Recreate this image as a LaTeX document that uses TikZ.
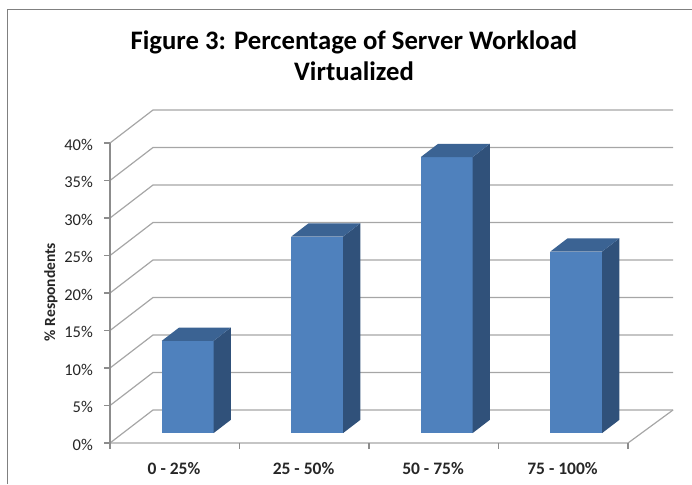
\documentclass[tikz,border=0pt]{standalone}
\usepackage{fontspec}
\setmainfont{Carlito}
\definecolor{gridgray}{HTML}{A6A6A6}
\definecolor{axisgray}{HTML}{8C8C8C}
\definecolor{framegray}{HTML}{808080}
\definecolor{barfront}{HTML}{4F81BD}
\definecolor{barside}{HTML}{30517A}
\definecolor{bartop}{HTML}{3B6393}
\begin{document}
\begin{tikzpicture}[x=1pt,y=-1pt,
  gridline/.style={draw=gridgray,line width=1.2pt},
  axisline/.style={draw=axisgray,line width=1.2pt},
  frameline/.style={draw=framegray,line width=1.6pt},
  frontface/.style={fill=barfront},
  sideface/.style={fill=barside},
  topface/.style={fill=bartop},
  ticklabel/.style={font=\fontsize{16.5}{18}\selectfont,text=black!85,inner sep=0pt,anchor=base east},
  catlabel/.style={font=\bfseries\fontsize{17.5}{18}\selectfont,text=black!85,inner sep=0pt,anchor=base},
  titlelabel/.style={font=\bfseries\fontsize{26.7}{30}\selectfont,inner sep=0pt,anchor=base}]
\useasboundingbox (0,0) rectangle (692,484);
% frame
\draw[frameline] (7.5,484) -- (7.5,9.5) -- (692,9.5);
% title
\node[titlelabel] (title1) at (354,50) {Figure 3: Percentage of Server Workload};
\node[titlelabel] (title2) at (354,81) {Virtualized};
% gridlines and ticks
\foreach \k/\lab in {0/0\%,1/5\%,2/10\%,3/15\%,4/20\%,5/25\%,6/30\%,7/35\%,8/40\%}{
  \pgfmathsetmacro{\yy}{443-37.5*\k}
  \coordinate (gf\k) at (110,\yy);
  \coordinate (gb\k) at (153,\yy-33);
  \coordinate (ge\k) at (673,\yy-33);
  \draw[gridline] (gf\k) -- (gb\k) -- (ge\k);
  \coordinate (tk\k) at (104,\yy);
  \draw[axisline] (tk\k) -- (gf\k);
  \node[ticklabel] (yl\k) at (93,\yy+7) {\lab};
}
% floor
\coordinate (floorR) at (628,443);
\coordinate (floorRB) at (673,410);
\draw[gridline] (gf0) -- (floorR) -- (floorRB);
% vertical axis
\draw[axisline] (gf8) -- (gf0);
% category ticks
\foreach \i in {0,1,2,3,4}{
  \coordinate (ct\i) at (110+129.5*\i,443);
  \coordinate (cb\i) at (110+129.5*\i,449);
  \draw[axisline] (ct\i) -- (cb\i);
}
% bars
\foreach \i/\v in {0/12.3,1/26.2,2/36.8,3/24.2}{
  \pgfmathsetmacro{\xa}{110+129.5*\i+51.75}
  \pgfmathsetmacro{\xb}{\xa+51.8}
  \pgfmathsetmacro{\yb}{433.1}
  \pgfmathsetmacro{\yt}{433.1-7.5*\v}
  \fill[frontface] (\xa,\yt) rectangle (\xb,\yb);
  \fill[sideface] (\xb,\yb) -- (\xb+17.2,\yb-13.2) -- (\xb+17.2,\yt-13.2) -- (\xb,\yt) -- cycle;
  \fill[topface] (\xa,\yt) -- (\xa+17.2,\yt-13.2) -- (\xb+17.2,\yt-13.2) -- (\xb,\yt) -- cycle;
}
% category labels
\foreach \i/\lab in {0/0 - 25\%,1/25 - 50\%,2/50 - 75\%,3/75 - 100\%}{
  \node[catlabel] (xl\i) at (174+129.5*\i,474) {\lab};
}
% axis title
\node[font=\bfseries\fontsize{15.5}{18}\selectfont,text=black!85,rotate=90,inner sep=0pt] (ytitle) at (51,292) {\% Respondents};
\end{tikzpicture}
\end{document}
